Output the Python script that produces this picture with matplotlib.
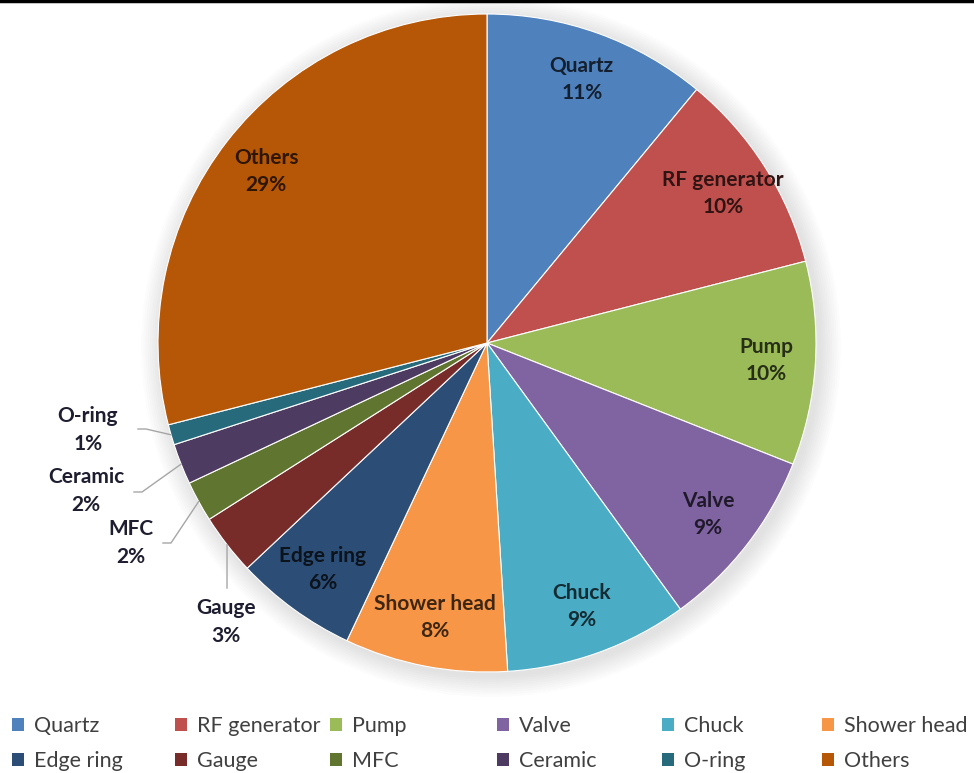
import numpy as np
import matplotlib.pyplot as plt
from matplotlib.patches import Circle
from matplotlib.lines import Line2D
from matplotlib.colors import to_rgb

plt.rcParams['font.family'] = ['Lato', 'DejaVu Sans']

# ---- data ----
parts = ['Quartz', 'RF generator', 'Pump', 'Valve', 'Chuck', 'Shower head',
         'Edge ring', 'Gauge', 'MFC', 'Ceramic', 'O-ring', 'Others']
share = [11, 10, 10, 9, 9, 8, 6, 3, 2, 2, 1, 29]
colors = ['#4F81BD', '#C0504D', '#9BBB59', '#8064A2', '#4BACC6', '#F79646',
          '#2C4D75', '#772C2A', '#5F7530', '#4D3B62', '#276A7C', '#B65708']
# small slices labelled outside with leader lines
outside = ['Gauge', 'MFC', 'Ceramic', 'O-ring']

W, H = 974, 773
fig = plt.figure(figsize=(W / 100, H / 100), dpi=100)
ax = fig.add_axes([0, 0, 1, 1])

cx, cy, R = 487, H - 343, 329

# soft shadow around the pie
for i in range(10):
    ax.add_patch(Circle((cx + 4, cy - 4), R + 1 + i * 2.2, color='#7f7f7f',
                        alpha=0.018, lw=0, zorder=0))

wedges, _ = ax.pie(share, colors=colors, startangle=90, counterclock=False,
                   center=(cx, cy), radius=R, frame=True,
                   wedgeprops=dict(edgecolor='white', linewidth=0.8))
ax.set_xlim(0, W); ax.set_ylim(0, H)
ax.axis('off')


def dark(c, f=0.25):
    return tuple(v * f for v in to_rgb(c))


# leader-line layout (elbow point, label point) in pixels from top-left
leader = {
    'O-ring':  ((138, 429), (88, 430)),
    'Ceramic': ((134, 492), (86, 491)),
    'MFC':     ((163, 543), (131, 543)),
    'Gauge':   ((227, 588), (226, 622)),
}

for w, name, v, col in zip(wedges, parts, share, colors):
    mid = np.deg2rad((w.theta1 + w.theta2) / 2)
    txt = f'{name}\n{v}%'
    if name in outside:
        ex, ey = cx + R * np.cos(mid), cy + R * np.sin(mid)
        (bx, by), (lx, ly) = leader[name]
        if name == 'Gauge':
            xs, ys = [ex, bx], [ey, H - by]
        else:
            xs, ys = [ex, bx + 8, bx], [ey, H - by, H - by]
        ax.plot(xs, ys, color='#a6a6a6', lw=1.0, zorder=3)
        ax.text(lx, H - ly, txt, ha='center', va='center', fontsize=15,
                fontweight='bold', color='#1e1e30', linespacing=1.45)
    else:
        r = R * 0.85
        ax.text(cx + r * np.cos(mid), cy + r * np.sin(mid), txt,
                ha='center', va='center', fontsize=15, fontweight='bold',
                color=dark(col), linespacing=1.45)

# top rule
fig.add_artist(Line2D([0, 1], [0.999, 0.999], color='black', lw=2.5,
                      transform=fig.transFigure))

# legend: six columns of two rows, column starts as in the original layout
col_x = [10, 173, 328, 495, 660, 820]
for c, x0 in enumerate(col_x):
    idx = [c, c + 6]
    leg = fig.legend([wedges[k] for k in idx], [parts[k] for k in idx],
                     loc='lower left', bbox_to_anchor=(x0 / W, 0.0),
                     frameon=False, fontsize=15.5,
                     handlelength=0.55, handleheight=0.55, handletextpad=0.45,
                     labelspacing=0.7, borderaxespad=0.0, borderpad=0.1)
    for t in leg.get_texts():
        t.set_color('#404040')
    for h in leg.legend_handles:
        h.set_edgecolor('none')

fig.savefig('out.png', dpi=100, facecolor='white')
